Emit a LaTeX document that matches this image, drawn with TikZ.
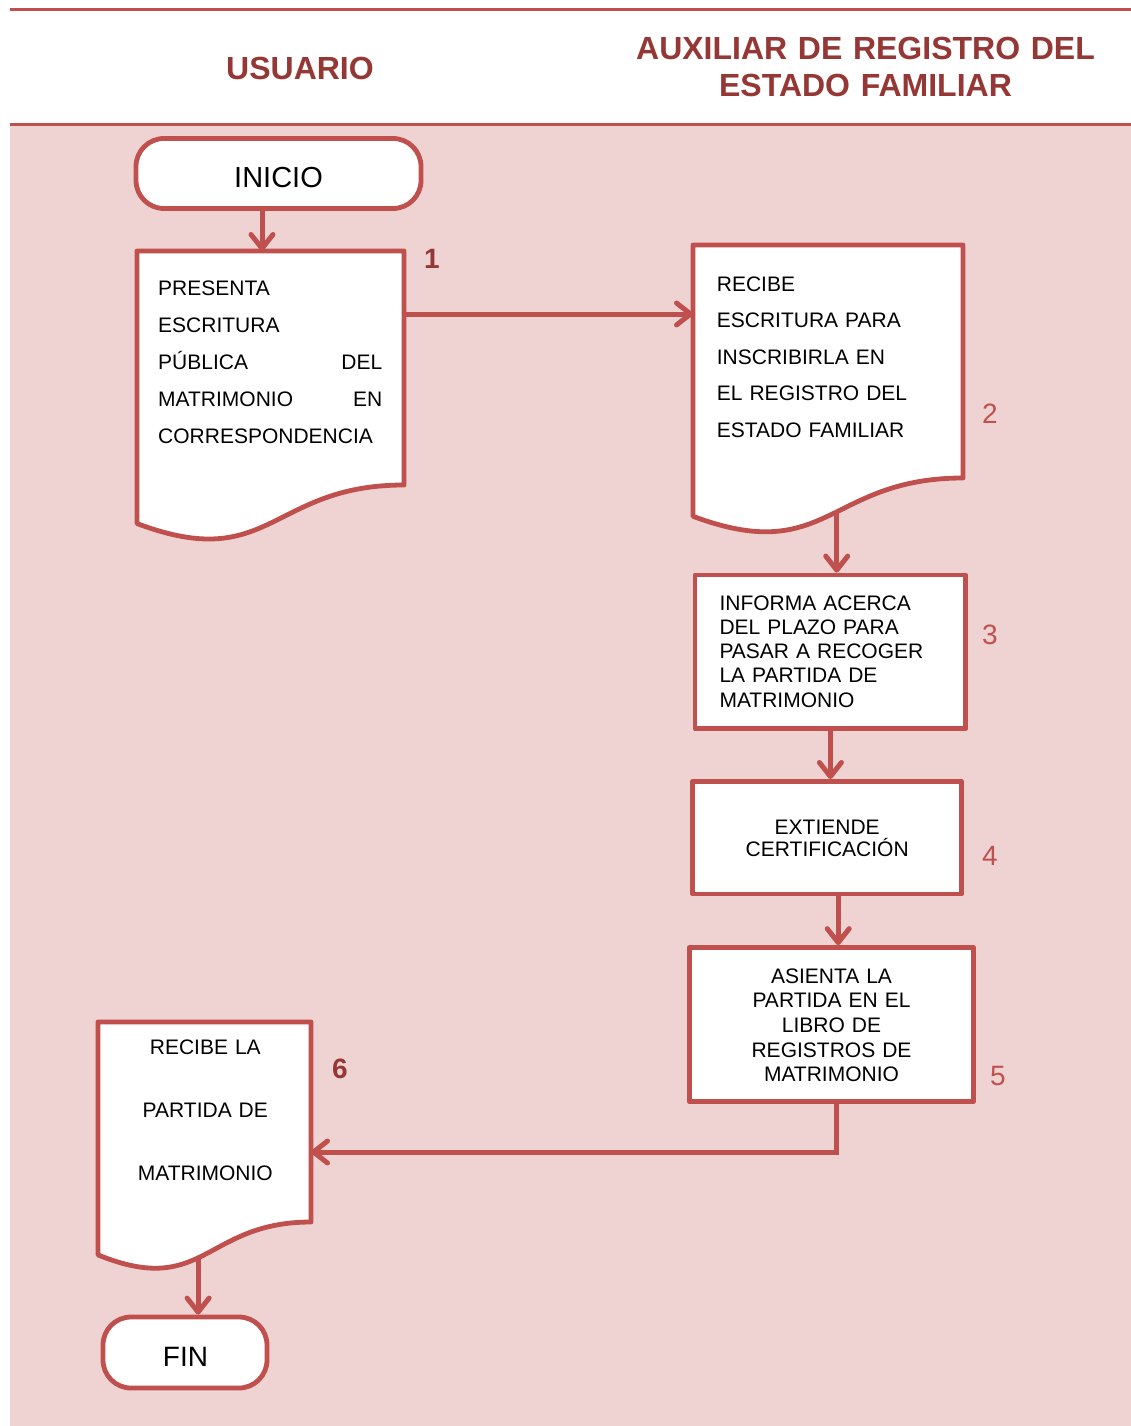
\documentclass[tikz,border=0pt]{standalone}
\usepackage{fontspec}
\setmainfont{Liberation Sans}
\usetikzlibrary{arrows.meta}

\definecolor{frame}{RGB}{192,80,77}
\definecolor{title}{RGB}{149,55,53}
\definecolor{lane}{RGB}{239,211,211}

\tikzset{
  outline/.style={draw=frame, line width=4.8pt, fill=white, line join=round},
  stepbox/.style={outline, rectangle, inner sep=0pt},
  terminal/.style={outline, rectangle, rounded corners=28pt, inner sep=0pt,
    font=\fontsize{28}{34}\selectfont},
  flow/.style={draw=frame, line width=5pt,
    -{Straight Barb[length=14pt,width=22pt,round]}},
  rule/.style={draw=frame, line width=3pt},
  lanetitle/.style={text=title, inner sep=0pt, align=center, anchor=base,
    text width=480pt, font=\bfseries\fontsize{32}{37}\selectfont},
  numbold/.style={text=title, inner sep=0pt, anchor=base,
    font=\bfseries\fontsize{28}{34}\selectfont},
  numplain/.style={text=frame, inner sep=0pt, anchor=base,
    font=\fontsize{28}{34}\selectfont},
  body/.style={inner sep=0pt, text=black},
}

\begin{document}
\begin{tikzpicture}[x=1pt,y=-1pt]
  \useasboundingbox (0,0) rectangle (1131,1426);

  % swimlane body and header rules
  \fill[lane] (10,125) rectangle (1131,1426);
  \draw[rule] (10,10) -- (1131,10);
  \draw[rule] (10,125) -- (1131,125);

  % lane titles
  \node[lanetitle] (laneA) at (300,80) {USUARIO};
  \node[lanetitle] (laneB) at (865.5,60) {AUXILIAR DE REGISTRO DEL\\ESTADO FAMILIAR};

  % start
  \node[terminal, minimum width=285pt, minimum height=70pt] (inicio) at (278.5,173.5) {};
  \node[body, anchor=base, font=\fontsize{29}{34}\selectfont] (iniciotxt) at (278.5,187) {INICIO};

  % step 1: document
  \draw[outline] (137,251) coordinate (d1nw) -- (404,251) -- (404,485)
    .. controls (270.5,485) and (270.5,574) .. (137,523.5) -- cycle;
  \coordinate (d1out) at (404,314);
  \node[body, anchor=base west, text width=224pt, align=left,
        font=\fontsize{21}{37}\selectfont] (doc1) at (158,295)
    {PRESENTA\\ESCRITURA\\PÚBLICA\hfill DEL\\MATRIMONIO\hfill EN\\CORRESPONDENCIA};
  \node[numbold] (n1) at (432,268) {1};

  % step 2: document
  \draw[outline] (693,245) coordinate (d2nw) -- (963,245) -- (963,478)
    .. controls (828,478) and (828,566.7) .. (693,516.3)
    coordinate[pos=0.457] (d2foot) -- cycle;
  \node[body, anchor=base west, text width=240pt, align=left,
        font=\fontsize{21}{36.5}\selectfont] (doc2) at (716.7,291)
    {RECIBE\\ESCRITURA PARA\\INSCRIBIRLA EN\\EL REGISTRO DEL\\ESTADO FAMILIAR};
  \node[numplain] (n2) at (990,423) {2};

  % step 3
  \node[stepbox, minimum width=270.7pt, minimum height=153.6pt] (box3) at (830.4,651.8) {};
  \node[body, anchor=base west, text width=240pt, align=left,
        font=\fontsize{21}{24.25}\selectfont] (box3txt) at (719.3,610)
    {INFORMA ACERCA\\DEL PLAZO PARA\\PASAR A RECOGER\\LA PARTIDA DE\\MATRIMONIO};
  \node[numplain] (n3) at (990,644) {3};

  % step 4
  \node[stepbox, minimum width=269pt, minimum height=112.6pt] (box4) at (827.2,837.7) {};
  \node[body, anchor=base, text width=250pt, align=center,
        font=\fontsize{21}{22.5}\selectfont] (box4txt) at (827.2,834)
    {EXTIENDE\\CERTIFICACIÓN};
  \node[numplain] (n4) at (990,865) {4};

  % step 5
  \node[stepbox, minimum width=284pt, minimum height=154.3pt] (box5) at (831.3,1024.7) {};
  \node[body, anchor=base, text width=250pt, align=center,
        font=\fontsize{21}{24.7}\selectfont] (box5txt) at (831.5,983)
    {ASIENTA LA\\PARTIDA EN EL\\LIBRO DE\\REGISTROS DE\\MATRIMONIO};
  \node[numplain] (n5) at (998,1085) {5};

  % step 6: document
  \draw[outline] (98,1022) -- (311,1022) -- (311,1222)
    .. controls (204.5,1222) and (204.5,1298.2) .. (98,1254.9)
    coordinate[pos=0.54] (d6foot) -- cycle;
  \coordinate (d6in) at (311,1152);
  \node[body, anchor=base, text width=200pt, align=center,
        font=\fontsize{21}{63.2}\selectfont] (doc6) at (205.3,1054.3)
    {RECIBE LA\\PARTIDA DE\\MATRIMONIO};
  \node[numbold] (n6) at (340,1078) {6};

  % end
  \node[terminal, minimum width=164pt, minimum height=71pt] (fin) at (185,1352.5) {};
  \node[body, anchor=base, font=\fontsize{28}{34}\selectfont] (fintxt) at (185.5,1366) {FIN};

  % connectors
  \draw[flow] ([xshift=-16.5pt]inicio.south) -- ([xshift=-16.5pt]inicio.south |- d1nw);
  \draw[flow] (d1out) -- (d1out -| d2nw);
  \draw[flow] (d2foot) -- (d2foot |- box3.north);
  \draw[flow] (box3.south) -- (box3.south |- box4.north);
  \draw[flow] ([xshift=11pt]box4.south) -- ([xshift=11pt]box4.south |- box5.north);
  \draw[flow] ([xshift=5.2pt]box5.south) |- (d6in);
  \draw[flow] (d6foot) -- (d6foot |- fin.north);
\end{tikzpicture}
\end{document}
